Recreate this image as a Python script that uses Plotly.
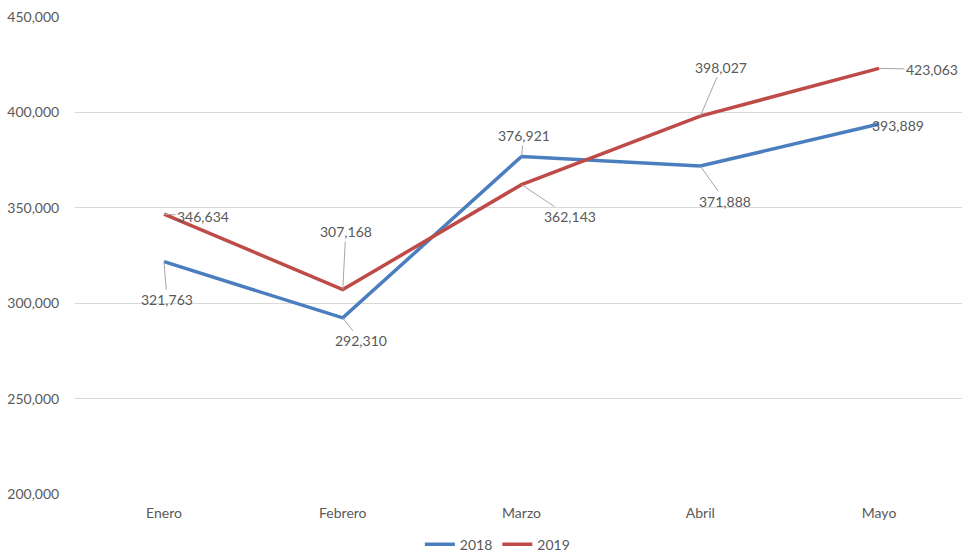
import plotly.graph_objects as go

months = ["Enero", "Febrero", "Marzo", "Abril", "Mayo"]
v2018 = [321763, 292310, 376921, 371888, 393889]
v2019 = [346634, 307168, 362143, 398027, 423063]
y_ticks = [200000, 250000, 300000, 350000, 400000, 450000]

# label offsets (pixels) for the leader-lined data labels
off2018 = [(3, 38), (18, 23), (2, -21), (25, 35), (19, 1)]
off2019 = [(39, 2), (3, -58), (48, 32), (21, -49), (53, 1)]

blue = "#4A7EBF"
red = "#BE4B48"
txt = "#595959"
font_family = "Lato"

fig = go.Figure()
fig.add_trace(go.Scatter(x=months, y=v2018, mode="lines", name="2018",
                         line=dict(color=blue, width=3.5)))
fig.add_trace(go.Scatter(x=months, y=v2019, mode="lines", name="2019",
                         line=dict(color=red, width=3.5)))

ann = []
for vals, offs in ((v2018, off2018), (v2019, off2019)):
    for m, v, (ax, ay) in zip(months, vals, offs):
        ann.append(dict(x=m, y=v, xref="x", yref="y", text=f"{v:,}",
                        showarrow=True, arrowhead=0, arrowwidth=1,
                        arrowcolor="#A6A6A6", ax=ax, ay=ay,
                        font=dict(size=14, color=txt, family=font_family)))

fig.update_layout(
    width=962, height=557,
    margin=dict(l=75, r=0, t=17, b=63, autoexpand=False),
    plot_bgcolor="white", paper_bgcolor="white",
    font=dict(family=font_family, size=14, color=txt),
    showlegend=True,
    legend=dict(orientation="h", xref="container", yref="container",
                x=0.517, y=0.022, xanchor="center", yanchor="middle",
                font=dict(size=14, color=txt), itemwidth=30),
    annotations=ann,
    xaxis=dict(range=[-0.498, 4.464], showgrid=False, showline=False,
               zeroline=False, ticks="outside", ticklen=6,
               tickcolor="rgba(0,0,0,0)", tickfont=dict(size=14, color=txt)),
    yaxis=dict(range=[200000, 450000], tickvals=y_ticks,
               ticktext=[f"{t:,}" for t in y_ticks],
               showgrid=True, gridcolor="#D9D9D9", gridwidth=1,
               zeroline=False, showline=False, ticks="outside", ticklen=12,
               tickcolor="rgba(0,0,0,0)", tickfont=dict(size=14, color=txt)),
)

fig.write_html("out.html", config={"displayModeBar": False},
               post_script="document.body.style.margin='0';document.body.style.overflow='hidden';")
